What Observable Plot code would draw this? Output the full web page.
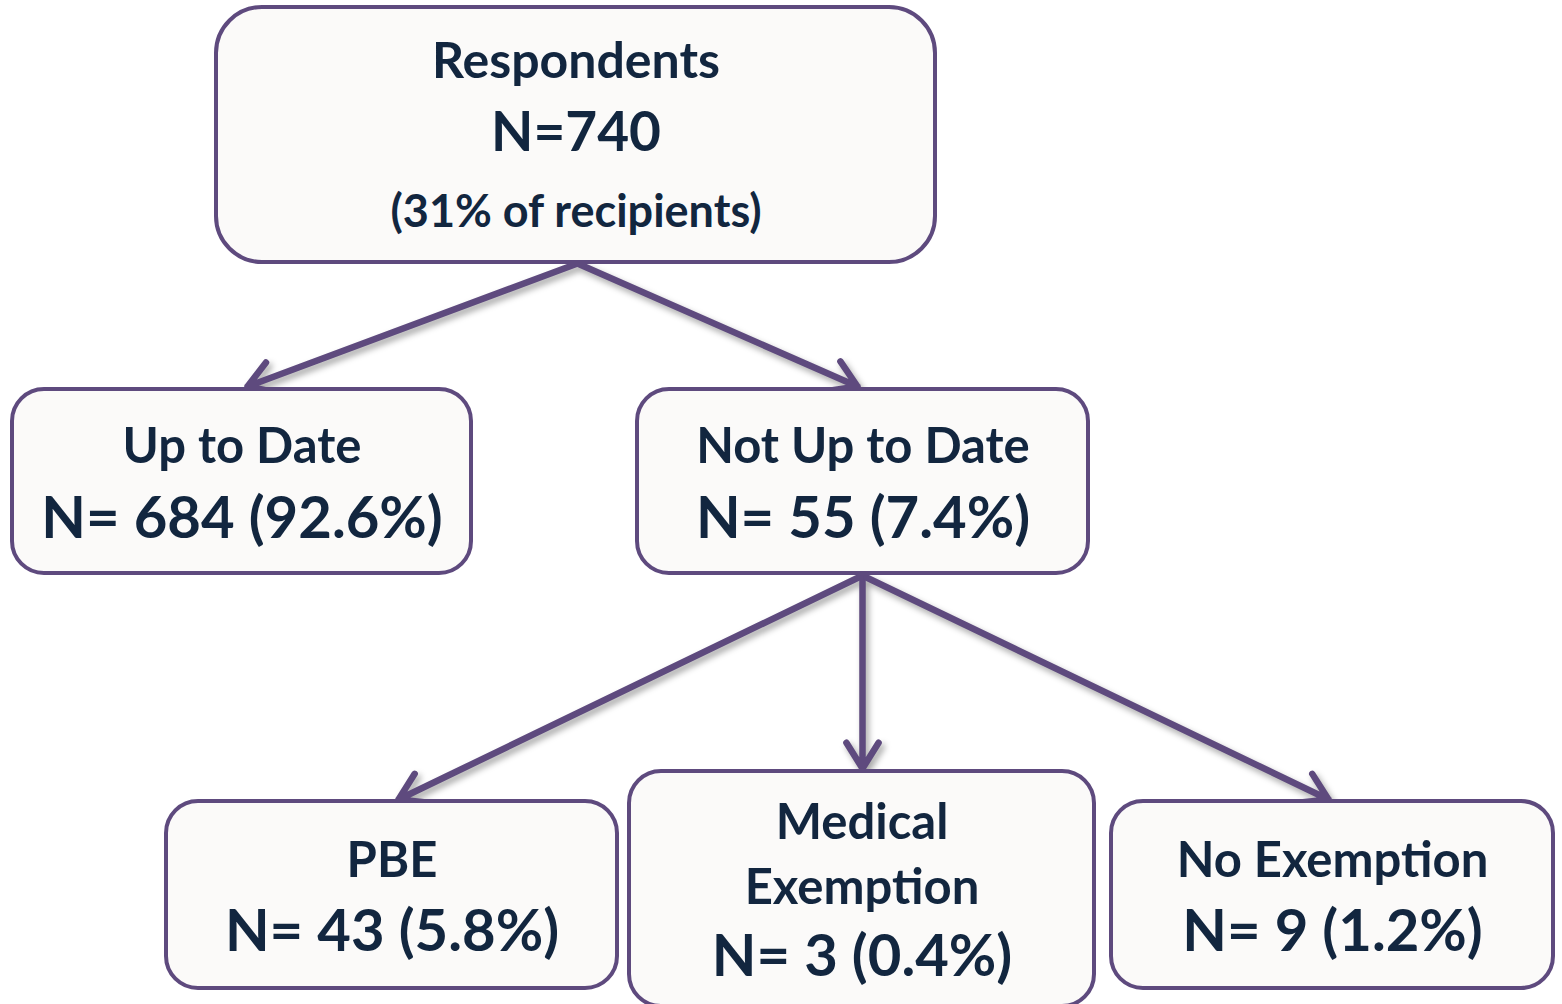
<!DOCTYPE html>
<html>
<head>
<meta charset="utf-8">
<script src="https://cdn.jsdelivr.net/npm/d3@7"></script>
<script src="https://cdn.jsdelivr.net/npm/@observablehq/plot@0.6"></script>
<style>
  html, body { margin: 0; padding: 0; background: #ffffff; }
  #chart svg { display: block; }
</style>
</head>
<body>
<div id="chart"></div>
<script>
// ---- data ----
const nodeNames = ["Respondents", "Up to Date", "Not Up to Date", "PBE", "Medical Exemption", "No Exemption"];
const nodeCounts = [740, 684, 55, 43, 3, 9];
const nodePercents = ["31% of recipients", "92.6%", "7.4%", "5.8%", "0.4%", "1.2%"];
const nodeParents = [null, 0, 0, 2, 2, 2];

// ---- layout (pixel positions in the picture) ----
const boxX1 = [216, 12, 637, 166, 629, 1111];
const boxX2 = [935, 471, 1088, 617, 1094, 1553];
const boxY1 = [7, 389, 389, 801, 771, 801];
const boxY2 = [262, 573, 573, 988, 1006, 988];
const arrowFrom = [null, [577, 263], [577, 263], [858, 577], [862, 577], [866, 577]];
const arrowTo = [null, [247, 386], [857, 386], [398, 799], [862, 768], [1328, 799]];

const W = 1562, H = 1004;
const purple = "#5e4a7e";
const ink = "#12263f";
const fill = "#fbfaf9";

const boxes = nodeNames.map((n, i) => ({name: n, x1: boxX1[i], x2: boxX2[i], y1: boxY1[i], y2: boxY2[i], big: i === 0}));
const arrows = nodeParents.map((p, i) => p == null ? null : ({
  x1: arrowFrom[i][0], y1: arrowFrom[i][1], x2: arrowTo[i][0], y2: arrowTo[i][1]
})).filter(d => d);

// text lines
const lines = [];
const cx = i => (boxX1[i] + boxX2[i]) / 2;
lines.push({x: cx(0), y: 77, text: nodeNames[0], size: 50});
lines.push({x: cx(0), y: 150, text: `N=${nodeCounts[0]}`, size: 55});
lines.push({x: cx(0), y: 226, text: `(${nodePercents[0]})`, size: 45});
lines.push({x: cx(1), y: 462, text: nodeNames[1], size: 49});
lines.push({x: cx(1), y: 537, text: `N= ${nodeCounts[1]} (${nodePercents[1]})`, size: 58});
lines.push({x: cx(2), y: 462, text: nodeNames[2], size: 49});
lines.push({x: cx(2), y: 537, text: `N= ${nodeCounts[2]} (${nodePercents[2]})`, size: 58});
lines.push({x: cx(3), y: 876, text: nodeNames[3], size: 49});
lines.push({x: cx(3), y: 950, text: `N= ${nodeCounts[3]} (${nodePercents[3]})`, size: 58});
lines.push({x: cx(4), y: 838, text: nodeNames[4].split(" ")[0], size: 49});
lines.push({x: cx(4), y: 903, text: nodeNames[4].split(" ")[1], size: 49});
lines.push({x: cx(4), y: 975, text: `N= ${nodeCounts[4]} (${nodePercents[4]})`, size: 58});
lines.push({x: cx(5), y: 876, text: nodeNames[5], size: 49});
lines.push({x: cx(5), y: 950, text: `N= ${nodeCounts[5]} (${nodePercents[5]})`, size: 58});

const chart = Plot.plot({
  width: W,
  height: H,
  margin: 0,
  x: {domain: [0, W], range: [0, W], axis: null},
  y: {domain: [0, H], range: [0, H], axis: null},
  style: {background: "#ffffff", fontFamily: "Lato, 'Open Sans', sans-serif"},
  marks: [
    Plot.arrow(arrows, {
      x1: "x1", y1: "y1", x2: "x2", y2: "y2",
      stroke: purple, strokeWidth: 6.5, headLength: 7, headAngle: 64,
      strokeLinecap: "round", strokeLinejoin: "round"
    }),
    Plot.rect(boxes.filter(d => d.big), {
      x1: "x1", x2: "x2", y1: "y1", y2: "y2",
      rx: 46, fill: fill, stroke: purple, strokeWidth: 4
    }),
    Plot.rect(boxes.filter(d => !d.big), {
      x1: "x1", x2: "x2", y1: "y1", y2: "y2",
      rx: 32, fill: fill, stroke: purple, strokeWidth: 4
    }),
    Plot.text(lines, {
      x: "x", y: "y", text: "text", fontSize: "size",
      textAnchor: "middle", lineAnchor: "bottom",
      fill: ink, fontWeight: "bold"
    })
  ]
});

// soft drop shadow under the connector arrows
d3.select(chart).selectAll("g").filter(function() {
  const l = this.getAttribute("aria-label") || "";
  return l.indexOf("arrow") >= 0;
}).style("filter", "drop-shadow(3px 4px 3px rgba(0,0,0,0.35))");

document.getElementById("chart").appendChild(chart);
</script>
</body>
</html>
